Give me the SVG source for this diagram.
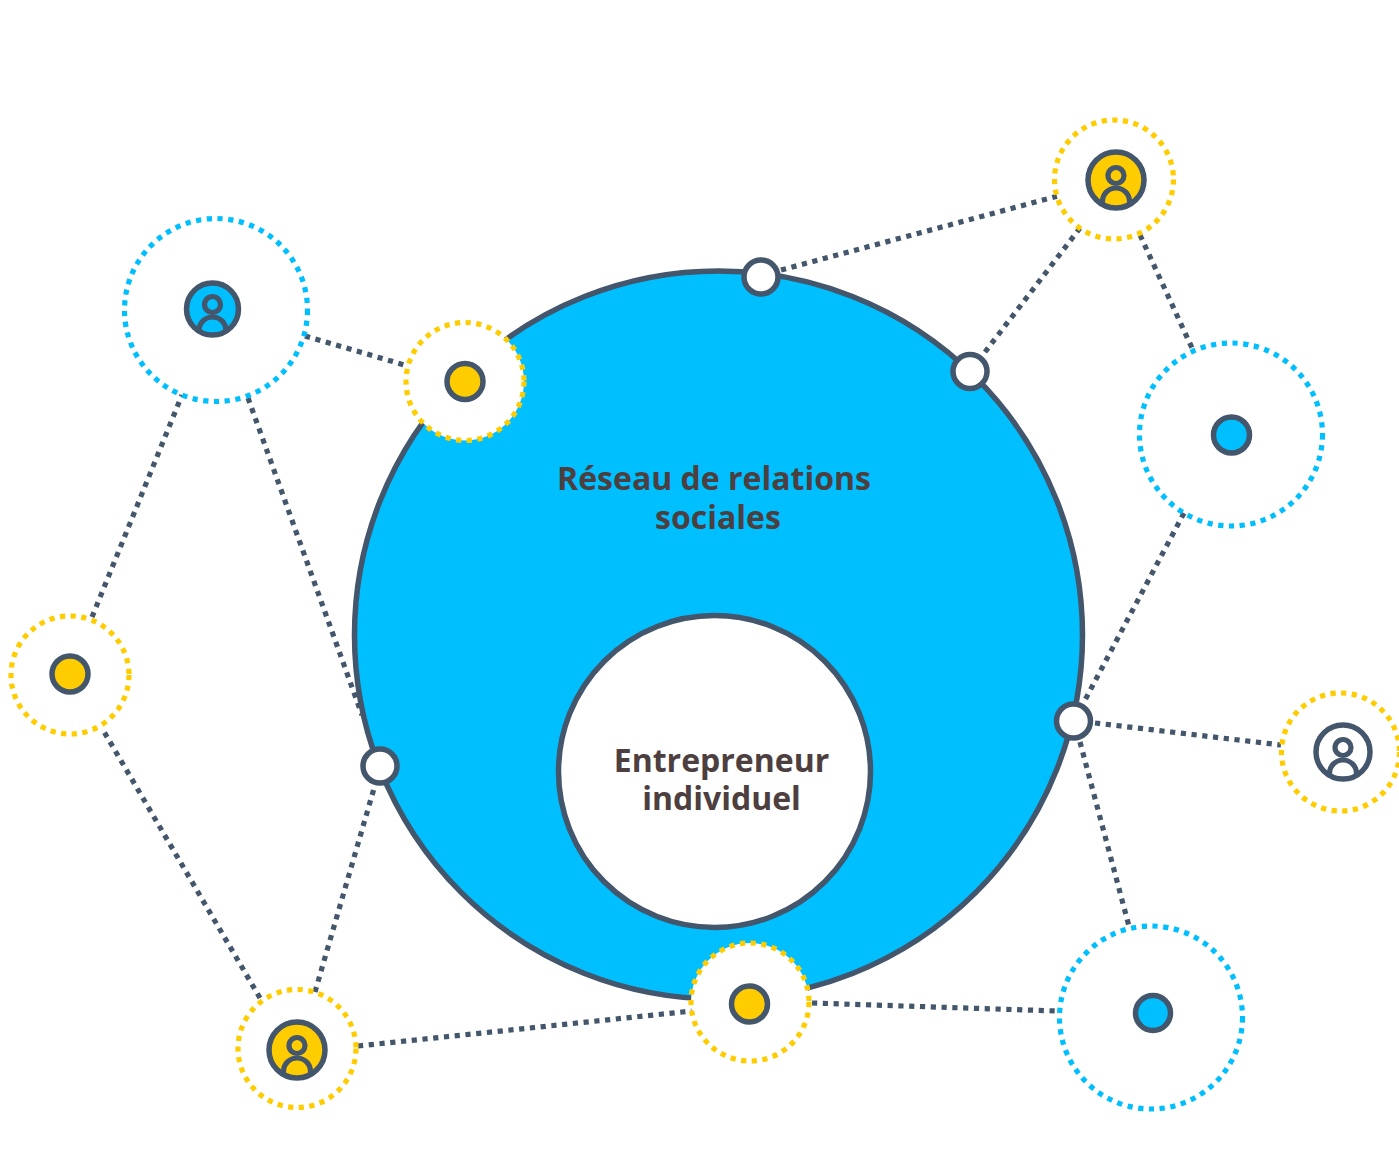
<svg xmlns="http://www.w3.org/2000/svg" width="1399" height="1151" viewBox="0 0 1399 1151">
<defs>
<style>
.c line{stroke:#44566c;stroke-width:5.200;stroke-dasharray:5.200 5.600;fill:none}
.ry{fill:#fff;stroke:#ffcc00;stroke-width:5.200;stroke-dasharray:5.200 5.500}
.rb{fill:#fff;stroke:#00bfff;stroke-width:5.200;stroke-dasharray:5.200 5.600}
.d{stroke:#44566c;stroke-width:5.500}
.y{fill:#ffcc00}.b{fill:#00bfff}.w{fill:#fff}
.p{fill:none;stroke:#44566c;stroke-width:5.200}
text{font-family:"Open Sans",sans-serif;font-weight:700;font-size:32px;fill:#4d3f40;text-anchor:middle}
</style>
<clipPath id="pc"><circle cx="0" cy="0" r="27"/></clipPath>
<g id="person"><g clip-path="url(#pc)"><circle class="p" cx="0" cy="-4.500" r="8"/><path class="p" d="M-13.500 30V21.500a13.500 13.500 0 0 1 27 0V30"/></g></g>
</defs>
<rect width="1399" height="1151" fill="#fff"/>
<g id="central"><circle cx="718.500" cy="635" r="364" class="b d"/></g>
<g id="connectors" class="c">
<line x1="781" y1="270" x2="1058" y2="196"/>
<line x1="985" y1="352" x2="1080" y2="228"/>
<line x1="1140" y1="235" x2="1192" y2="348"/>
<line x1="1184" y1="513" x2="1085" y2="700"/>
<line x1="1095" y1="723" x2="1281" y2="745"/>
<line x1="1080" y1="742" x2="1130" y2="930"/>
<line x1="812" y1="1003" x2="1057" y2="1011"/>
<line x1="358" y1="1046" x2="692" y2="1011"/>
<line x1="315" y1="992" x2="375" y2="785"/>
<line x1="260" y1="998" x2="103" y2="730"/>
<line x1="92" y1="617" x2="182" y2="395"/>
<line x1="248" y1="398" x2="362" y2="715"/>
<line x1="305" y1="336" x2="408" y2="366"/>
</g>
<g id="inner"><circle cx="714.500" cy="771.500" r="156" class="w d"/>
<text><tspan x="721.500" y="772">Entrepreneur</tspan><tspan x="721.500" y="810">individuel</tspan></text></g>
<g id="network-label"><text><tspan x="714" y="490">Réseau de relations</tspan><tspan x="718" y="529">sociales</tspan></text></g>
<g id="n1"><circle class="rb" cx="216" cy="310" r="91.500"/><circle class="b d" cx="212.500" cy="309" r="26"/><use href="#person" x="212.500" y="309"/></g>
<g id="n2"><circle class="ry" cx="465" cy="381.500" r="59"/><circle class="y d" cx="465" cy="381.500" r="18"/></g>
<g id="n3"><circle class="ry" cx="70" cy="675" r="59"/><circle class="y d" cx="70" cy="674" r="18"/></g>
<g id="n4"><circle class="ry" cx="297" cy="1048.500" r="59"/><circle class="y d" cx="297" cy="1050" r="28"/><use href="#person" x="297" y="1050"/></g>
<g id="n5"><circle class="ry" cx="750" cy="1002" r="59"/><circle class="y d" cx="749.500" cy="1004" r="18"/></g>
<g id="n6"><circle class="rb" cx="1151" cy="1017.500" r="91.500"/><circle class="b d" cx="1153" cy="1013" r="17.500"/></g>
<g id="n7"><circle class="ry" cx="1340.500" cy="752" r="59"/><circle class="w d" cx="1343" cy="752" r="27"/><use href="#person" x="1343" y="752"/></g>
<g id="n8"><circle class="rb" cx="1231" cy="434.500" r="91.500"/><circle class="b d" cx="1231.500" cy="435" r="18"/></g>
<g id="n9"><circle class="ry" cx="1114" cy="179.500" r="59.500"/><circle class="y d" cx="1116" cy="180" r="28"/><use href="#person" x="1116" y="180"/></g>
<g id="j1"><circle class="w d" cx="761" cy="277" r="17"/></g>
<g id="j2"><circle class="w d" cx="970" cy="371.500" r="17"/></g>
<g id="j3"><circle class="w d" cx="1073.500" cy="721" r="17"/></g>
<g id="j4"><circle class="w d" cx="380" cy="766" r="17"/></g>
</svg>
